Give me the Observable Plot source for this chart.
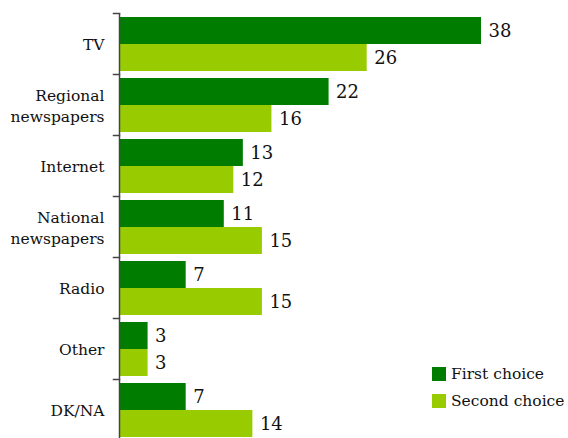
<!DOCTYPE html>
<html><head><meta charset="utf-8">
<script src="https://cdn.jsdelivr.net/npm/d3@7"></script>
<script src="https://cdn.jsdelivr.net/npm/@observablehq/plot@0.6"></script>
<style>
html,body{margin:0;padding:0;overflow:hidden;background:#fff;}
#wrap{position:relative;width:568px;height:438px;font-family:"DejaVu Serif",serif;}
#legend{position:absolute;left:432px;top:360px;font-size:15.5px;color:#111;}
.sw{display:flex;align-items:center;height:27px;}
.sw span.box{display:inline-block;width:14px;height:14px;margin-right:5px;}
</style></head>
<body><div id="wrap"><div id="legend"></div></div>
<script>
const categories = ["TV","Regional newspapers","Internet","National newspapers","Radio","Other","DK/NA"];
const series = ["First choice","Second choice"];
const firstChoice = [38,22,13,11,7,3,7];
const secondChoice = [26,16,12,15,15,3,14];
const colors = ["#007d00","#99cc00"];

const data = [];
categories.forEach((c,i)=>{
  data.push({cat:c, s:series[0], v:firstChoice[i]});
  data.push({cat:c, s:series[1], v:secondChoice[i]});
});

const chart = Plot.plot({
  width:568, height:441,
  marginLeft:119, marginRight:0, marginTop:12, marginBottom:0,
  style:{fontFamily:"DejaVu Serif, serif", fontSize:"15.5px", color:"#111", background:"#fff"},
  x:{domain:[0,47.13], axis:null},
  y:{domain:series, paddingInner:0, paddingOuter:0.12, axis:null},
  fy:{domain:categories, padding:0, axis:null, label:null},
  color:{domain:series, range:colors},
  marks:[
    Plot.barX(data,{fy:"cat", y:"s", x:"v", fill:"s"}),
    Plot.text(data,{fy:"cat", y:"s", x:"v", text:d=>String(d.v), textAnchor:"start", dx:7, fontSize:18, fill:"#111"}),
    Plot.ruleX([0],{stroke:"#444", strokeWidth:1.5}),
    Plot.frame({anchor:"top", stroke:"#444", strokeWidth:1.5, insetLeft:-6, insetRight:449}),
    Plot.axisFy({anchor:"left", tickSize:0, tickPadding:15, fontSize:15.5, lineHeight:1.3, label:null,
      tickFormat:d=>d.replace(" ","\n"), fill:"#111"})
  ]
});
document.getElementById("wrap").prepend(chart);

const leg = document.getElementById("legend");
series.forEach((s,i)=>{
  const row = document.createElement("div");
  row.className="sw";
  row.innerHTML = `<span class="box" style="background:${colors[i]}"></span><span>${s}</span>`;
  leg.appendChild(row);
});
</script>
</body></html>
